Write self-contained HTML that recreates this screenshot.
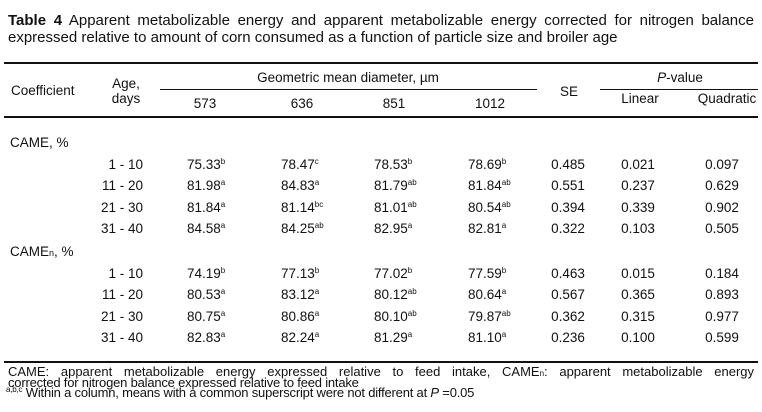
<!DOCTYPE html>
<html><head><meta charset="utf-8">
<style>
body{margin:0;width:762px;height:412px;background:#fff;position:relative;overflow:hidden;font-family:"Liberation Sans",Arial,sans-serif;color:#111}
.t{position:absolute;font-size:13px;line-height:16px;white-space:nowrap}
.c{transform:translateX(-50%)}
.r{transform:translateX(-100%)}
sup{font-size:8px;vertical-align:5px;line-height:0}
.rule{position:absolute;height:1.5px;background:#111}
.j{position:absolute;left:8px;width:746px;text-align:justify;text-align-last:justify;white-space:nowrap}
</style></head><body>
<div class="j" style="top:12px;font-size:15px;line-height:18px"><b>Table 4</b> Apparent metabolizable energy and apparent metabolizable energy corrected for nitrogen balance</div>
<div class="t" style="left:8px;top:29px;font-size:15px;line-height:18px">expressed relative to amount of corn consumed as a function of particle size and broiler age</div>

<div class="rule" style="left:4px;width:754px;top:62px"></div>
<div class="rule" style="left:160px;width:377px;top:89px;height:1px"></div>
<div class="rule" style="left:600px;width:158px;top:89px;height:1px"></div>
<div class="rule" style="left:4px;width:754px;top:116px"></div>
<div class="rule" style="left:4px;width:754px;top:361px"></div>

<div class="t" style="left:11px;top:83px;font-size:13.5px">Coefficient</div>
<div class="t c" style="left:126px;top:76px;text-align:center;line-height:15px;font-size:13.5px">Age,<br>days</div>
<div class="t c" style="left:348px;top:70px;font-size:13.5px">Geometric mean diameter, µm</div>
<div class="t c" style="left:205px;top:96px;font-size:13.5px">573</div>
<div class="t c" style="left:302px;top:96px;font-size:13.5px">636</div>
<div class="t c" style="left:394px;top:96px;font-size:13.5px">851</div>
<div class="t c" style="left:490px;top:96px;font-size:13.5px">1012</div>
<div class="t c" style="left:569px;top:84px;font-size:13.5px">SE</div>
<div class="t c" style="left:680px;top:70px;font-size:13.5px"><i>P</i>-value</div>
<div class="t c" style="left:640px;top:91px;font-size:13.5px">Linear</div>
<div class="t c" style="left:727px;top:91px;font-size:13.5px">Quadratic</div>

<div id="rows"></div>

<div class="j" style="top:365px;font-size:13px;line-height:14px">CAME: apparent metabolizable energy expressed relative to feed intake, CAME<span style="font-size:8px">n</span>: apparent metabolizable energy</div>
<div class="t" style="left:8px;top:376px;font-size:13px;line-height:14px;letter-spacing:-0.2px">corrected for nitrogen balance expressed relative to feed intake</div>
<div class="t" style="left:6px;top:386px;font-size:13px;line-height:14px;letter-spacing:-0.2px"><sup>a,b,c</sup> Within a column, means with a common superscript were not different at <i>P</i> =0.05</div>

<script>
const groups=[
 {label:'CAME, %',y:143,rows:[
  ['1 - 10',[['75.33','b'],['78.47','c'],['78.53','b'],['78.69','b']],'0.485','0.021','0.097'],
  ['11 - 20',[['81.98','a'],['84.83','a'],['81.79','ab'],['81.84','ab']],'0.551','0.237','0.629'],
  ['21 - 30',[['81.84','a'],['81.14','bc'],['81.01','ab'],['80.54','ab']],'0.394','0.339','0.902'],
  ['31 - 40',[['84.58','a'],['84.25','ab'],['82.95','a'],['82.81','a']],'0.322','0.103','0.505']]},
 {label:'CAME<span style="font-size:9px">n</span>, %',y:252,rows:[
  ['1 - 10',[['74.19','b'],['77.13','b'],['77.02','b'],['77.59','b']],'0.463','0.015','0.184'],
  ['11 - 20',[['80.53','a'],['83.12','a'],['80.12','ab'],['80.64','a']],'0.567','0.365','0.893'],
  ['21 - 30',[['80.75','a'],['80.86','a'],['80.10','ab'],['79.87','ab']],'0.362','0.315','0.977'],
  ['31 - 40',[['82.83','a'],['82.24','a'],['81.29','a'],['81.10','a']],'0.236','0.100','0.599']]}
];
const valX=[187,281,374,468];
const root=document.getElementById('rows');
function mk(html,x,y,cls,name){
 const d=document.createElement('div');
 d.className='t '+(cls||'');
 d.style.left=x+'px';d.style.top=(y-8)+'px';
 d.style.fontSize='13.5px';
 d.innerHTML=html;
 
 
 root.appendChild(d);
}
groups.forEach((g,gi)=>{
 mk(g.label,10,g.y,'','group-label');
 g.rows.forEach((r,ri)=>{
  const y=g.y+21.5*(ri+1);
  mk(r[0],143,y,'r','age-cell');
  r[1].forEach((v,vi)=>mk(v[0]+'<sup>'+v[1]+'</sup>',valX[vi],y,'','value-cell'));
  mk(r[2],568,y,'c','se-cell');
  mk(r[3],638,y,'c','linear-cell');
  mk(r[4],722,y,'c','quadratic-cell');
 });
});
</script>
</body></html>
